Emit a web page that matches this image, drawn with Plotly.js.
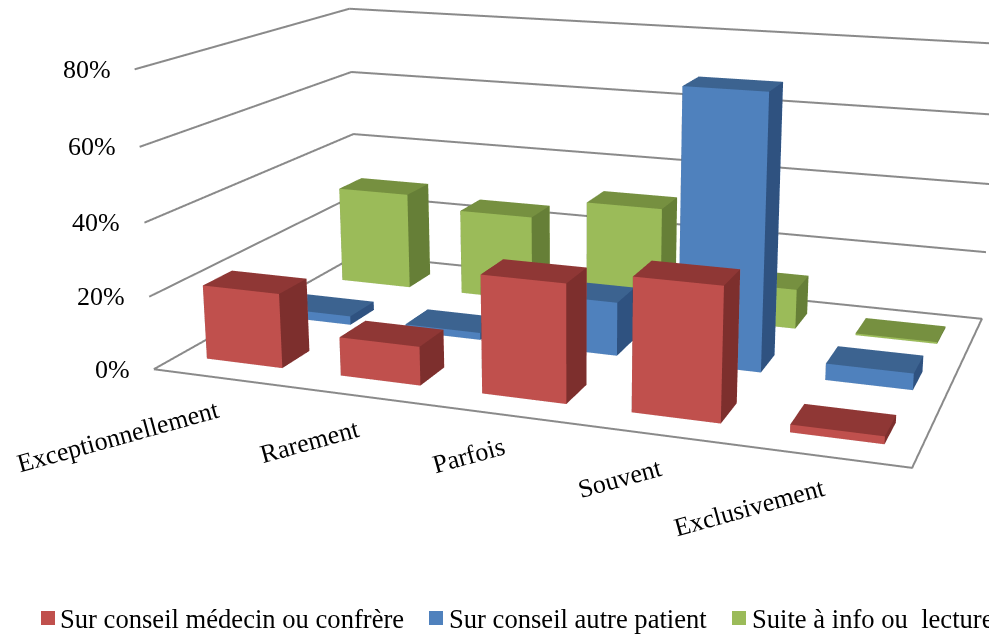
<!DOCTYPE html>
<html><head><meta charset="utf-8">
<script src="https://cdn.plot.ly/plotly-3.0.1.min.js"></script>
<style>html,body{margin:0;padding:0;width:989px;height:634px;overflow:hidden;background:#fff}
#chart{position:absolute;left:0;top:-504px;width:1188px;height:1486px}</style></head>
<body><div id="chart"></div>
<script>
const categories=['Exceptionnellement','Rarement','Parfois','Souvent','Exclusivement'];
const seriesNames=['Sur conseil médecin ou confrère','Sur conseil autre patient','Suite à info ou  lecture'];
const medecin=[20.5,10.5,31.5,35,2];
const patient=[2.5,2,15,75,4.5];
const lecture=[29,25.5,31.5,11.5,0.5];
const zTicks=[0,20,40,60,80];
const frontColors=['#C0504D','#4F81BD','#9BBB59'];
const topColors=['#8F3735','#3C6390','#769040'];
const sideColors=['#7D2F2D','#2F5280','#667F37'];
const gridColor='#8A8A8A';
const catShiftX=[-102,-49,-37,-41,-76];
const catShiftY=[59,46,41,43,51];
const legendSwatchX=[41,429,732];
const legendTextX=[58,447,750];

const W=1188,H=1486,TOP=504;
const BAR=0.57,DEPTH=0.38;
const allValues=[medecin,patient,lecture];

function barMesh(vals,s){
  const x=[],y=[],z=[],i=[],j=[],k=[],fc=[];
  vals.forEach((v,c)=>{
    const x0=c+(1-BAR)/2,x1=x0+BAR,y0=s+(1-DEPTH)/2,y1=y0+DEPTH,n=x.length;
    [[x0,y0,0],[x1,y0,0],[x1,y1,0],[x0,y1,0],[x0,y0,v],[x1,y0,v],[x1,y1,v],[x0,y1,v]].forEach(p=>{x.push(p[0]);y.push(p[1]);z.push(p[2]);});
    const q=(a,b,cc,d,col)=>{i.push(n+a,n+a);j.push(n+b,n+cc);k.push(n+cc,n+d);fc.push(col,col);};
    q(0,1,5,4,frontColors[s]);q(1,2,6,5,sideColors[s]);q(3,2,6,7,frontColors[s]);q(0,3,7,4,sideColors[s]);q(4,5,6,7,topColors[s]);q(0,1,2,3,topColors[s]);
  });
  return {type:'mesh3d',x,y,z,i,j,k,facecolor:fc,flatshading:true,hoverinfo:'skip',showscale:false,
    lighting:{ambient:1,diffuse:0,specular:0,fresnel:0,roughness:1},lightposition:{x:0,y:0,z:1000}};
}
const X=categories.length,Y=allValues.length,Z=zTicks[zTicks.length-1];
const gl={type:'scatter3d',mode:'lines',hoverinfo:'skip',line:{color:gridColor,width:4},
  x:[0,X,X,0,0],y:[0,0,Y,Y,0],z:[0,0,0,0,0]};
const traces=[gl];
zTicks.slice(1).forEach(t=>traces.push({type:'scatter3d',mode:'lines',hoverinfo:'skip',line:{color:gridColor,width:4},x:[0,0,X],y:[0,Y,Y],z:[t,t,t]}));
allValues.forEach((v,s)=>traces.push(barMesh(v,s)));

const sceneAnn=[];
zTicks.forEach(t=>sceneAnn.push({x:0,y:0,z:t,text:t+'%',showarrow:false,xanchor:'right',yanchor:'middle',xshift:-22,font:{family:'Liberation Serif',size:26,color:'#000'}}));
categories.forEach((c,n)=>sceneAnn.push({x:n+.5,y:0,z:0,text:c,showarrow:false,textangle:-15.5,xanchor:'center',yanchor:'middle',xshift:catShiftX[n],yshift:-catShiftY[n],font:{family:'Liberation Serif',size:26,color:'#000'}}));

const px=v=>v/W, py=v=>1-(v+TOP)/H;
const shapes=seriesNames.map((n,s)=>({type:'rect',xref:'paper',yref:'paper',x0:px(legendSwatchX[s]),x1:px(legendSwatchX[s]+14),y0:py(611),y1:py(625),fillcolor:frontColors[s],line:{width:0}}));
const annotations=seriesNames.map((n,s)=>({xref:'paper',yref:'paper',x:px(legendTextX[s]),y:py(619),text:n.replace('  ','&nbsp; '),showarrow:false,xanchor:'left',yanchor:'middle',font:{family:'Liberation Serif',size:26.6,color:'#000'}}));

const ax={visible:false,showspikes:false};
Plotly.newPlot('chart',traces,{width:W,height:H,margin:{l:0,r:0,t:0,b:0},showlegend:false,paper_bgcolor:'#fff',hovermode:false,shapes,annotations,
 scene:{domain:{x:[0,1],y:[0,1]},aspectmode:'manual',aspectratio:{x:1.6808,y:1,z:0.6715},
  camera:{eye:{x:1.3214,y:-3.7296,z:0.9845},center:{x:0.0847,y:-0.1922,z:-0.0292},up:{x:0.8213,y:-2.3525,z:1}},
  xaxis:{...ax,range:[0,X]},yaxis:{...ax,range:[0,Y]},zaxis:{...ax,range:[0,Z]},annotations:sceneAnn}},
 {displayModeBar:false});
</script></body></html>
